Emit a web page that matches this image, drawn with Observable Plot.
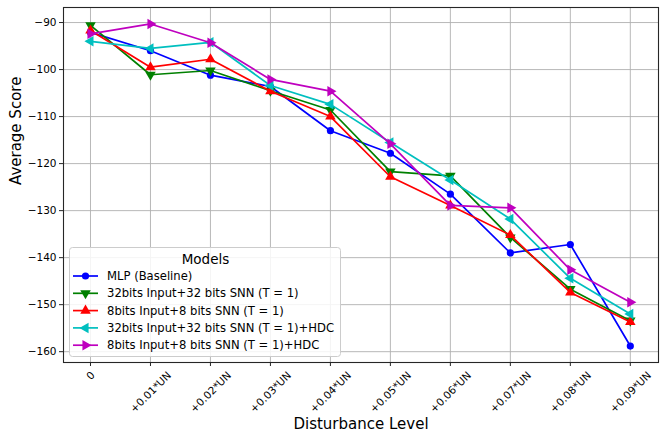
<!DOCTYPE html>
<html>
<head>
<meta charset="utf-8">
<script src="https://cdn.jsdelivr.net/npm/d3@7"></script>
<script src="https://cdn.jsdelivr.net/npm/@observablehq/plot@0.6"></script>
<style>
  body { margin: 0; background: #fff; }
  #wrap { position: relative; width: 665px; height: 441px; font-family: "DejaVu Sans", sans-serif; }
  #legend { position: absolute; left: 69px; top: 247px; }
</style>
</head>
<body>
<div id="wrap"></div>
<script>
const xLabels = ["0", "+0.01*UN", "+0.02*UN", "+0.03*UN", "+0.04*UN", "+0.05*UN", "+0.06*UN", "+0.07*UN", "+0.08*UN", "+0.09*UN"];
const yTicks = [-90, -100, -110, -120, -130, -140, -150, -160];

const seriesNames = [
  "MLP (Baseline)",
  "32bits Input+32 bits SNN (T = 1)",
  "8bits Input+8 bits SNN (T = 1)",
  "32bits Input+32 bits SNN (T = 1)+HDC",
  "8bits Input+8 bits SNN (T = 1)+HDC"
];
const seriesColors = ["#0000ff", "#008000", "#ff0000", "#00bfbf", "#bf00bf"];
const seriesSymbols = ["circle", "triangle", "triangle", "triangle", "triangle"];
const seriesRotate = [0, 180, 0, -90, 90];

const mlp     = [-92.1, -96.0, -101.2, -103.6, -113.0, -117.8, -126.5, -139.0, -137.2, -158.8];
const snn32   = [-90.6, -101.1, -100.2, -104.5, -108.6, -121.7, -122.6, -135.7, -146.7, -153.4];
const snn8    = [-91.7, -99.5, -97.8, -104.6, -110.0, -122.8, -128.9, -135.2, -147.4, -153.7];
const snn32h  = [-94.0, -95.5, -94.2, -103.4, -107.4, -115.5, -123.5, -131.8, -144.4, -152.0];
const snn8h   = [-92.4, -90.3, -94.3, -102.1, -104.6, -115.8, -128.9, -129.4, -142.6, -149.5];

const seriesValues = [mlp, snn32, snn8, snn32h, snn8h];
const idx = xLabels.map((_, i) => i);
const fmt = d => String(d).replace("-", "\u2212");

const marks = [
  Plot.gridX({ticks: idx, stroke: "#b0b0b0", strokeOpacity: 1, strokeWidth: 0.9}),
  Plot.gridY({ticks: yTicks, stroke: "#b0b0b0", strokeOpacity: 1, strokeWidth: 0.9}),
];
seriesValues.forEach((vals, s) => {
  const rows = vals.map((v, i) => ({x: i, y: v}));
  marks.push(Plot.line(rows, {x: "x", y: "y", stroke: seriesColors[s], strokeWidth: 1.7}));
  marks.push(Plot.dot(rows, {x: "x", y: "y", fill: seriesColors[s], stroke: "none",
    symbol: seriesSymbols[s], rotate: seriesRotate[s], r: seriesSymbols[s] === "circle" ? 3.6 : 3.9}));
});
marks.push(
  Plot.frame({stroke: "#262626", strokeWidth: 1.1}),
  Plot.axisY({ticks: yTicks, tickSize: 4, tickPadding: 3, tickFormat: fmt, fontSize: 10.5, label: null, stroke: "#262626"}),
  Plot.axisX({ticks: idx, tickSize: 4, tickFormat: () => "", label: null, stroke: "#262626"}),
  Plot.text([0], {x: d => d, text: d => xLabels[d], frameAnchor: "bottom", rotate: -45, textAnchor: "end", lineAnchor: "middle", dx: 2.5, dy: 11, fontSize: 10.5, fill: "#000"}),
  Plot.text(idx.slice(1), {x: d => d, text: d => xLabels[d], frameAnchor: "bottom", rotate: -45, textAnchor: "end", lineAnchor: "middle", dx: 19, dy: 11, fontSize: 10.5, fill: "#000"}),
  Plot.text(["Disturbance Level"], {frameAnchor: "bottom", dy: 62, lineAnchor: "middle", fontSize: 15, fill: "#000"}),
  Plot.text(["Average Score"], {frameAnchor: "left", dx: -47, rotate: -90, lineAnchor: "middle", fontSize: 15, fill: "#000"})
);

const chart = Plot.plot({
  width: 665,
  height: 441,
  marginLeft: 63,
  marginRight: 7,
  marginTop: 7,
  marginBottom: 79,
  style: {fontFamily: "DejaVu Sans, sans-serif", background: "#fff", color: "#000"},
  x: {type: "linear", domain: [-0.45, 9.47], axis: null},
  y: {domain: [-162.3, -86.8], axis: null},
  marks
});
document.getElementById("wrap").appendChild(chart);

// Legend
const lw = 271, lh = 109;
const leg = d3.select("#wrap").append("svg").attr("id", "legend")
  .attr("width", lw + 2).attr("height", lh + 2)
  .style("font-family", "DejaVu Sans, sans-serif");
leg.append("rect").attr("x", 0.5).attr("y", 0.5).attr("width", lw).attr("height", lh)
  .attr("rx", 3).attr("fill", "rgba(255,255,255,0.85)").attr("stroke", "#cccccc");
leg.append("text").attr("x", lw / 2 + 1).attr("y", 12).attr("dy", "0.36em")
  .attr("text-anchor", "middle").attr("font-size", 13.5).text("Models");
const symMap = {circle: d3.symbolCircle, triangle: d3.symbolTriangle};
seriesNames.forEach((name, s) => {
  const cy = 29 + s * 17.3;
  const g = leg.append("g");
  g.append("line").attr("x1", 4).attr("x2", 29).attr("y1", cy).attr("y2", cy)
    .attr("stroke", seriesColors[s]).attr("stroke-width", 1.7);
  const r = seriesSymbols[s] === "circle" ? 3.6 : 3.9;
  g.append("path").attr("d", d3.symbol(symMap[seriesSymbols[s]], Math.PI * r * r)())
    .attr("transform", `translate(16.5,${cy}) rotate(${seriesRotate[s]})`)
    .attr("fill", seriesColors[s]);
  g.append("text").attr("x", 38).attr("y", cy).attr("dy", "0.36em")
    .attr("font-size", 11.6).attr("fill", "#000").text(name);
});
</script>
</body>
</html>
